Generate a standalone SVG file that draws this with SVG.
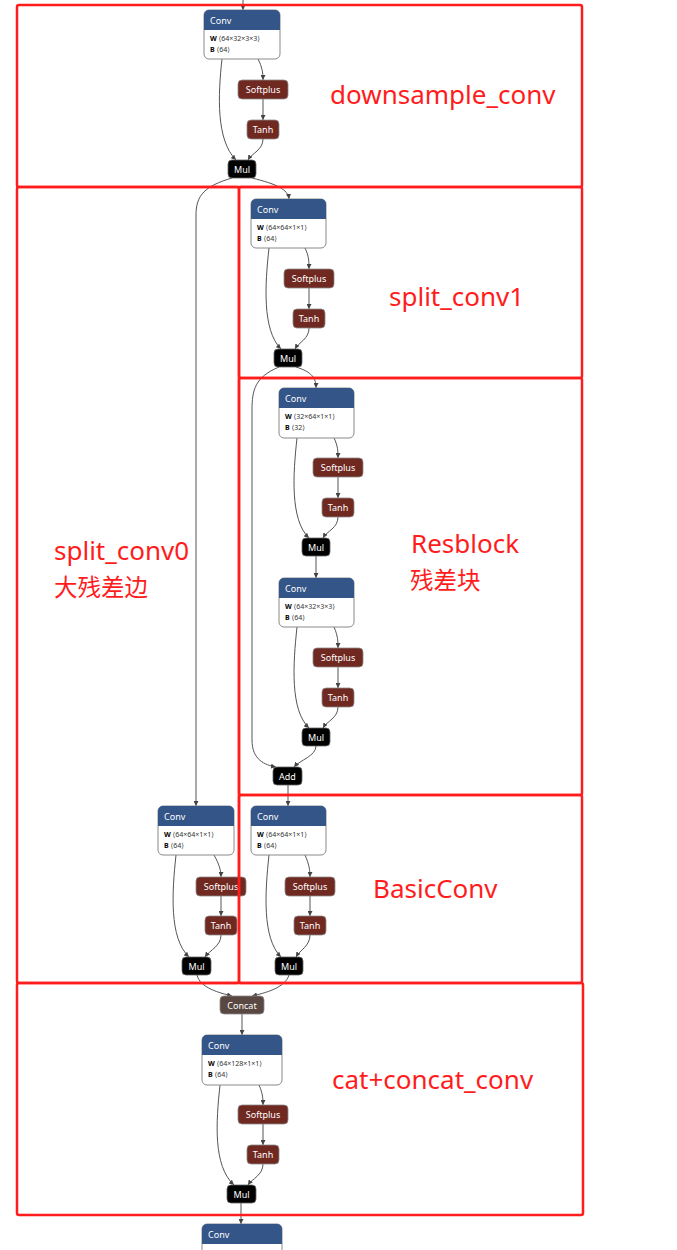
<svg xmlns="http://www.w3.org/2000/svg" width="677" height="1250" viewBox="0 0 677 1250">
<style>
.hdr{fill:#335588}
.body{fill:#fff;stroke:#8a8a8a;stroke-width:1}
.act{fill:#702921;stroke:#8a8a8a;stroke-width:0.8}
.op{fill:#000;stroke:#666;stroke-width:0.8}
.cat{fill:#594741;stroke:#8a8a8a;stroke-width:0.8}
.t{font-family:"Noto Sans","DejaVu Sans",sans-serif;font-size:9px;fill:#fff}
.tc{font-family:"Noto Sans","DejaVu Sans",sans-serif;font-size:9px;fill:#fff;text-anchor:middle}
.w{font-family:"Noto Sans","DejaVu Sans",sans-serif;font-size:7px;fill:#333}
.wb{font-weight:bold;fill:#000}
.e{fill:none;stroke:#555;stroke-width:1}
.red{fill:none;stroke:#ff1c1c;stroke-width:2.5}
.lbl{font-family:"Noto Sans","Noto Sans CJK SC",sans-serif;font-size:26px;fill:#ff1c1c}
.cjk{font-family:"Noto Sans CJK SC",sans-serif;font-size:23.5px;fill:#ff1c1c}
</style>
<defs>
<marker id="ah" viewBox="0 0 10 10" refX="10" refY="5" markerWidth="5" markerHeight="5" orient="auto"><path d="M0,0 L10,5 L0,10 Z" fill="#444"/></marker>
</defs>

<g id="connectors" class="e" marker-end="url(#ah)">
<path d="M243,0 V10"/>
<path d="M222,59 C218,95 216,140 236,160"/>
<path d="M258,59 C262,67 263,72 263,80"/>
<path d="M263,99 V120"/>
<path d="M263,139 C263,150 252,153 248,160"/>
<path d="M232,178 C205,186 196,195 196,215 V806"/>
<path d="M252,178 C276,184 288,189 289,199"/>
<path d="M269,248 C265,284 262,330 281,349"/>
<path d="M305,248 C309,256 309,262 309,269"/>
<path d="M309,288 V309"/>
<path d="M309,328 C309,339 299,342 295,349"/>
<path d="M279,367 C255,377 252,390 252,410 V740 C252,760 265,765 276,767"/>
<path d="M296,367 C312,372 316,378 316,388"/>
<path d="M297,438 C293,474 290,520 309,538"/>
<path d="M334,438 C338,446 338,452 338,458"/>
<path d="M338,477 V498"/>
<path d="M338,517 C338,528 327,531 323,538"/>
<path d="M316,556 V578"/>
<path d="M297,627 C293,664 290,710 309,728"/>
<path d="M334,627 C338,636 338,642 338,648"/>
<path d="M338,667 V688"/>
<path d="M338,707 C338,718 327,721 323,728"/>
<path d="M316,746 C316,756 300,760 294,767"/>
<path d="M288,785 V806"/>
<path d="M269,855 C265,892 262,938 281,957"/>
<path d="M305,855 C309,864 310,870 310,877"/>
<path d="M310,896 V916"/>
<path d="M310,935 C310,946 300,950 296,957"/>
<path d="M176,855 C172,892 169,938 189,957"/>
<path d="M214,855 C219,864 221,870 221,877"/>
<path d="M221,896 V916"/>
<path d="M221,935 C221,946 210,950 205,957"/>
<path d="M197,975 C200,988 220,993 232,996"/>
<path d="M289,975 C285,988 265,993 252,996"/>
<path d="M242,1014 V1035"/>
<path d="M220,1085 C216,1122 213,1166 234,1185"/>
<path d="M259,1085 C263,1094 263,1099 263,1105"/>
<path d="M263,1124 V1145"/>
<path d="M263,1164 C263,1175 252,1179 248,1185"/>
<path d="M241,1203 V1224"/>
</g>

<g id="conv1" transform="translate(204,10)">
<rect class="body" x="0" y="0" width="76" height="49" rx="5"/>
<path class="hdr" d="M0,20 V5 A5,5 0 0 1 5,0 H71 A5,5 0 0 1 76,5 V20 Z"/>
<text class="t" x="6" y="14">Conv</text>
<text class="w" x="6" y="31"><tspan class="wb">W</tspan> ⟨64×32×3×3⟩</text>
<text class="w" x="6" y="42"><tspan class="wb">B</tspan> ⟨64⟩</text>
</g>
<g id="softplus1"><rect class="act" x="238" y="80" width="50" height="19" rx="4"/><text class="tc" x="263" y="93">Softplus</text></g>
<g id="tanh1"><rect class="act" x="247" y="120" width="32" height="19" rx="4"/><text class="tc" x="263" y="133">Tanh</text></g>
<g id="mul1"><rect class="op" x="228" y="160" width="28" height="18" rx="4"/><text class="tc" x="242" y="172.5">Mul</text></g>

<g id="conv2" transform="translate(251,199)">
<rect class="body" x="0" y="0" width="75" height="49" rx="5"/>
<path class="hdr" d="M0,20 V5 A5,5 0 0 1 5,0 H70 A5,5 0 0 1 75,5 V20 Z"/>
<text class="t" x="6" y="14">Conv</text>
<text class="w" x="6" y="31"><tspan class="wb">W</tspan> ⟨64×64×1×1⟩</text>
<text class="w" x="6" y="42"><tspan class="wb">B</tspan> ⟨64⟩</text>
</g>
<g id="softplus2"><rect class="act" x="284" y="269" width="50" height="19" rx="4"/><text class="tc" x="309" y="282">Softplus</text></g>
<g id="tanh2"><rect class="act" x="293" y="309" width="32" height="19" rx="4"/><text class="tc" x="309" y="322">Tanh</text></g>
<g id="mul2"><rect class="op" x="274" y="349" width="28" height="18" rx="4"/><text class="tc" x="288" y="361.5">Mul</text></g>

<g id="conv3" transform="translate(279,388)">
<rect class="body" x="0" y="0" width="75" height="50" rx="5"/>
<path class="hdr" d="M0,20 V5 A5,5 0 0 1 5,0 H70 A5,5 0 0 1 75,5 V20 Z"/>
<text class="t" x="6" y="14">Conv</text>
<text class="w" x="6" y="31"><tspan class="wb">W</tspan> ⟨32×64×1×1⟩</text>
<text class="w" x="6" y="42"><tspan class="wb">B</tspan> ⟨32⟩</text>
</g>
<g id="softplus3"><rect class="act" x="313" y="458" width="50" height="19" rx="4"/><text class="tc" x="338" y="471">Softplus</text></g>
<g id="tanh3"><rect class="act" x="322" y="498" width="32" height="19" rx="4"/><text class="tc" x="338" y="511">Tanh</text></g>
<g id="mul3"><rect class="op" x="302" y="538" width="28" height="18" rx="4"/><text class="tc" x="316" y="550.5">Mul</text></g>

<g id="conv4" transform="translate(279,578)">
<rect class="body" x="0" y="0" width="75" height="49" rx="5"/>
<path class="hdr" d="M0,20 V5 A5,5 0 0 1 5,0 H70 A5,5 0 0 1 75,5 V20 Z"/>
<text class="t" x="6" y="14">Conv</text>
<text class="w" x="6" y="31"><tspan class="wb">W</tspan> ⟨64×32×3×3⟩</text>
<text class="w" x="6" y="42"><tspan class="wb">B</tspan> ⟨64⟩</text>
</g>
<g id="softplus4"><rect class="act" x="313" y="648" width="50" height="19" rx="4"/><text class="tc" x="338" y="661">Softplus</text></g>
<g id="tanh4"><rect class="act" x="322" y="688" width="32" height="19" rx="4"/><text class="tc" x="338" y="701">Tanh</text></g>
<g id="mul4"><rect class="op" x="302" y="728" width="28" height="18" rx="4"/><text class="tc" x="316" y="740.5">Mul</text></g>

<g id="add"><rect class="op" x="273" y="767" width="29" height="18" rx="4"/><text class="tc" x="287.5" y="779.5">Add</text></g>

<g id="conv5" transform="translate(251,806)">
<rect class="body" x="0" y="0" width="75" height="49" rx="5"/>
<path class="hdr" d="M0,20 V5 A5,5 0 0 1 5,0 H70 A5,5 0 0 1 75,5 V20 Z"/>
<text class="t" x="6" y="14">Conv</text>
<text class="w" x="6" y="31"><tspan class="wb">W</tspan> ⟨64×64×1×1⟩</text>
<text class="w" x="6" y="42"><tspan class="wb">B</tspan> ⟨64⟩</text>
</g>
<g id="softplus5"><rect class="act" x="285" y="877" width="50" height="19" rx="4"/><text class="tc" x="310" y="890">Softplus</text></g>
<g id="tanh5"><rect class="act" x="294" y="916" width="32" height="19" rx="4"/><text class="tc" x="310" y="929">Tanh</text></g>
<g id="mul5"><rect class="op" x="275" y="957" width="28" height="18" rx="4"/><text class="tc" x="289" y="969.5">Mul</text></g>

<g id="conv0" transform="translate(158,806)">
<rect class="body" x="0" y="0" width="76" height="49" rx="5"/>
<path class="hdr" d="M0,20 V5 A5,5 0 0 1 5,0 H71 A5,5 0 0 1 76,5 V20 Z"/>
<text class="t" x="6" y="14">Conv</text>
<text class="w" x="6" y="31"><tspan class="wb">W</tspan> ⟨64×64×1×1⟩</text>
<text class="w" x="6" y="42"><tspan class="wb">B</tspan> ⟨64⟩</text>
</g>
<g id="softplus0"><rect class="act" x="196" y="877" width="50" height="19" rx="4"/><text class="tc" x="221" y="890">Softplus</text></g>
<g id="tanh0"><rect class="act" x="205" y="916" width="32" height="19" rx="4"/><text class="tc" x="221" y="929">Tanh</text></g>
<g id="mul0"><rect class="op" x="182" y="957" width="29" height="18" rx="4"/><text class="tc" x="196.5" y="969.5">Mul</text></g>

<g id="concat"><rect class="cat" x="220" y="996" width="44" height="18" rx="4"/><text class="tc" x="242" y="1008.5">Concat</text></g>

<g id="conv6" transform="translate(202,1035)">
<rect class="body" x="0" y="0" width="80" height="50" rx="5"/>
<path class="hdr" d="M0,20 V5 A5,5 0 0 1 5,0 H75 A5,5 0 0 1 80,5 V20 Z"/>
<text class="t" x="6" y="14">Conv</text>
<text class="w" x="6" y="31"><tspan class="wb">W</tspan> ⟨64×128×1×1⟩</text>
<text class="w" x="6" y="42"><tspan class="wb">B</tspan> ⟨64⟩</text>
</g>
<g id="softplus6"><rect class="act" x="238" y="1105" width="50" height="19" rx="4"/><text class="tc" x="263" y="1118">Softplus</text></g>
<g id="tanh6"><rect class="act" x="247" y="1145" width="32" height="19" rx="4"/><text class="tc" x="263" y="1158">Tanh</text></g>
<g id="mul6"><rect class="op" x="227" y="1185" width="29" height="18" rx="4"/><text class="tc" x="241.5" y="1197.5">Mul</text></g>

<g id="conv7" transform="translate(202,1224)">
<rect class="body" x="0" y="0" width="80" height="49" rx="5"/>
<path class="hdr" d="M0,20 V5 A5,5 0 0 1 5,0 H75 A5,5 0 0 1 80,5 V20 Z"/>
<text class="t" x="6" y="14">Conv</text>
</g>

<g id="regions">
<rect class="red" x="17" y="5" width="565" height="182" rx="2"/>
<rect class="red" x="17" y="187" width="222" height="796" rx="2"/>
<rect class="red" x="239" y="187" width="343" height="191" rx="2"/>
<rect class="red" x="239" y="378" width="343" height="417" rx="2"/>
<rect class="red" x="239" y="795" width="343" height="188" rx="2"/>
<rect class="red" x="17" y="983" width="566" height="232" rx="2"/>
</g>

<g id="labels">
<text class="lbl" x="330" y="104">downsample_conv</text>
<text class="lbl" x="389" y="306">split_conv1</text>
<text class="lbl" x="54" y="560">split_conv0</text>
<text class="cjk" x="54" y="596">大残差边</text>
<text class="lbl" x="411" y="553">Resblock</text>
<text class="cjk" x="410" y="589">残差块</text>
<text class="lbl" x="373" y="898">BasicConv</text>
<text class="lbl" x="332" y="1089">cat+concat_conv</text>
</g>
</svg>
